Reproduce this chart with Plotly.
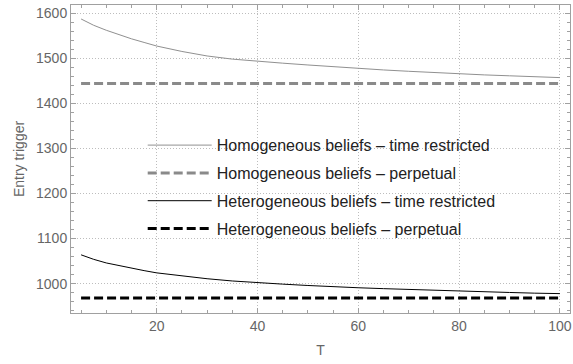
import plotly.graph_objects as go

T = [5, 7.5, 10, 12.5, 15, 17.5, 20, 25, 30, 35, 40, 45, 50, 55, 60, 65, 70, 75, 80, 85, 90, 95, 100]
homog_restricted = [1587, 1573, 1562, 1552, 1543, 1535, 1527, 1515, 1505, 1498, 1493, 1489, 1485, 1481,
                    1477, 1474, 1471, 1468, 1466, 1463, 1461, 1459, 1457]
heter_restricted = [1064, 1054, 1046, 1040, 1034, 1029, 1024, 1017, 1011, 1006, 1002, 999, 996, 993,
                    991, 989, 987, 985, 983.5, 982, 980.5, 979, 978]
T_perp = [5, 100]
homog_perpetual = [1444, 1444]
heter_perpetual = [968, 968]

names = ["Homogeneous beliefs \u2013 time restricted",
         "Homogeneous beliefs \u2013 perpetual",
         "Heterogeneous beliefs \u2013 time restricted",
         "Heterogeneous beliefs \u2013 perpetual"]

FONT = "Liberation Sans, Arial, sans-serif"

fig = go.Figure()
fig.add_trace(go.Scatter(x=T, y=homog_restricted, mode="lines", name=names[0], legendgroup="a",
                         line=dict(color="#909090", width=1)))
fig.add_trace(go.Scatter(x=T_perp, y=homog_perpetual, mode="lines", name=names[1], legendgroup="b",
                         line=dict(color="#8a8a8a", width=3, dash="9px,4px")))
fig.add_trace(go.Scatter(x=T, y=heter_restricted, mode="lines", name=names[2], legendgroup="c",
                         line=dict(color="#000000", width=1)))
fig.add_trace(go.Scatter(x=T_perp, y=heter_perpetual, mode="lines", name=names[3], legendgroup="d",
                         line=dict(color="#000000", width=3, dash="9px,4px")))

axis_common = dict(
    showline=True, linecolor="#a0a0a0", linewidth=1, mirror="allticks",
    ticks="inside", ticklen=5, tickcolor="#a0a0a0", tickwidth=1,
    showgrid=True, gridcolor="#bdbdbd", griddash="1px,2px", gridwidth=1,
    zeroline=False, ticklabeloverflow="allow",
    tickfont=dict(family=FONT, size=14, color="#666666"),
    title_font=dict(family=FONT, size=14, color="#666666"),
)

fig.update_xaxes(range=[3, 102], tickvals=[20, 40, 60, 80, 100],
                 minor=dict(dtick=5, tick0=0, ticks="inside", ticklen=3, tickcolor="#a0a0a0", showgrid=False),
                 title_text="T", title_standoff=12, **axis_common)
fig.update_yaxes(range=[935, 1618], tickvals=[1000, 1100, 1200, 1300, 1400, 1500, 1600],
                 minor=dict(dtick=20, tick0=0, ticks="inside", ticklen=3, tickcolor="#a0a0a0", showgrid=False),
                 title_text="Entry trigger", title_standoff=8, **axis_common)

fig.update_layout(
    width=573, height=364,
    margin=dict(l=71, r=1, t=5, b=51),
    plot_bgcolor="white", paper_bgcolor="white",
    font=dict(family=FONT, size=14, color="#222222"),
    legend=dict(x=0.1437, y=0.6, xanchor="left", yanchor="top", bgcolor="rgba(0,0,0,0)",
                itemwidth=64, tracegroupgap=4, font=dict(family=FONT, size=16, color="#222222")),
)

fig.write_html("out.html")
